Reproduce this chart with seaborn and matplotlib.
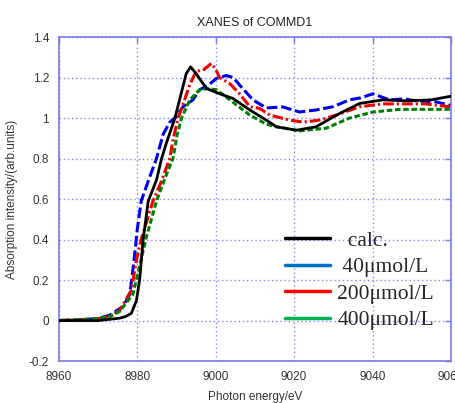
import pandas as pd
import seaborn as sns
import matplotlib
matplotlib.use('Agg')
from matplotlib import pyplot as plt
from matplotlib.lines import Line2D

# XANES spectra
calc_x = [8960, 8970, 8975.5, 8977, 8978.5, 8979.8, 8980.6, 8981.5, 8982.8, 8984.9,
          8986.2, 8987.4, 8989.6, 8992.5, 8993.6, 8995, 8997.6, 9001, 9004.4, 9008.7,
          9012.9, 9015.5, 9020.6, 9025.6, 9031.6, 9036.7, 9042.6, 9049, 9055, 9060]
calc_y = [0, 0, 0.012, 0.02, 0.036, 0.10, 0.2, 0.4, 0.59, 0.694,
          0.8, 0.875, 1.0, 1.22, 1.253, 1.22, 1.147, 1.12, 1.097, 1.04,
          0.99, 0.957, 0.94, 0.957, 1.023, 1.072, 1.09, 1.085, 1.09, 1.108]

c40_x = [8960, 8966, 8970, 8973, 8976.4, 8978.1, 8979.2, 8980, 8981, 8983,
         8984.9, 8986.6, 8988.3, 8989.5, 8991.7, 8994.2, 8995.9, 8998, 9000.2, 9002.7,
         9004.5, 9006.1, 9009.5, 9012.9, 9017.1, 9021.4, 9025.6, 9029.9, 9034.1, 9037,
         9040.1, 9044.3, 9048, 9051.1, 9056.2, 9059.6, 9060]
c40_y = [0, 0.005, 0.01, 0.027, 0.07, 0.13, 0.3, 0.45, 0.59, 0.7,
         0.8, 0.92, 0.98, 1.0, 1.056, 1.09, 1.14, 1.16, 1.196, 1.21,
         1.2, 1.163, 1.09, 1.05, 1.055, 1.03, 1.04, 1.056, 1.09, 1.1,
         1.12, 1.09, 1.095, 1.085, 1.08, 1.064, 1.06]

c200_x = [8960, 8966, 8970, 8973, 8975.5, 8978.5, 8979.8, 8981, 8984, 8986,
          8988.3, 8989.2, 8990.4, 8991.7, 8993.5, 8995, 8997, 8998.9, 9000, 9001,
          9003.6, 9006.1, 9008.7, 9011.2, 9013.8, 9018.9, 9022.3, 9026.5, 9030.8, 9036.7,
          9042.6, 9047.7, 9053.6, 9059.6, 9060]
c200_y = [0, 0.005, 0.01, 0.02, 0.05, 0.15, 0.3, 0.4, 0.59, 0.68,
          0.8, 0.9, 1.0, 1.07, 1.17, 1.23, 1.24, 1.27, 1.24, 1.20,
          1.17, 1.12, 1.056, 1.048, 1.015, 0.99, 0.98, 0.99, 1.015, 1.056,
          1.07, 1.07, 1.07, 1.056, 1.05]

c400_x = [8960, 8966, 8970, 8973, 8975.5, 8978.9, 8980.6, 8982.3, 8984.9, 8987,
          8989.1, 8990.2, 8991.3, 8993.4, 8995.9, 8998, 9000.2, 9003.6, 9008.7, 9012.9,
          9015.5, 9021.4, 9028.2, 9034.1, 9040.1, 9046.9, 9053, 9060]
c400_y = [0, 0.005, 0.01, 0.02, 0.045, 0.13, 0.27, 0.41, 0.59, 0.7,
          0.8, 0.92, 1.0, 1.09, 1.14, 1.145, 1.14, 1.09, 1.015, 0.97,
          0.957, 0.937, 0.95, 1.0, 1.03, 1.043, 1.043, 1.043]

labels = ['calc.', '40\u03bcmol/L', '200\u03bcmol/L', '400\u03bcmol/L']
legend_colors = ['black', '#0070c0', '#ff0000', '#00b050']

sns.set_style('white')
plt.rcParams['font.family'] = ['Liberation Sans', 'DejaVu Sans']

fig = plt.figure(figsize=(4.56, 4.03), dpi=100)
ax = fig.add_axes([0.129, 0.104, 0.860, 0.804])

frame = '#7878e8'
ax.grid(True, color='#8888ff', linestyle=(0, (1, 2)), linewidth=1.0)

sns.lineplot(x=calc_x, y=calc_y, ax=ax, color='black', linewidth=2.0, sort=False, zorder=3)
sns.lineplot(x=c40_x, y=c40_y, ax=ax, color='#0000ee', linewidth=2.2, sort=False,
             zorder=2).lines[-1].set_dashes((3.5, 1.2))
sns.lineplot(x=c200_x, y=c200_y, ax=ax, color='#ee0000', linewidth=2.2, sort=False,
             zorder=2).lines[-1].set_dashes((3.5, 1.0, 0.7, 1.0))
sns.lineplot(x=c400_x, y=c400_y, ax=ax, color='#008000', linewidth=2.2, sort=False,
             zorder=2).lines[-1].set_dashes((1.8, 0.9))

ax.set_xlim(8960, 9060)
ax.set_ylim(-0.2, 1.4)
ax.set_xticks([8960, 8980, 9000, 9020, 9040, 9060])
ax.set_yticks([-0.2, 0, 0.2, 0.4, 0.6, 0.8, 1, 1.2, 1.4])
ax.set_yticklabels(['-0.2', '0', '0.2', '0.4', '0.6', '0.8', '1', '1.2', '1.4'])
ax.tick_params(direction='in', length=4, width=1, color=frame, labelsize=8.5,
               labelcolor='#333333', top=True, right=True, pad=7)
for s in ax.spines.values():
    s.set_color(frame)
    s.set_linewidth(1.2)

ax.set_xlabel('Photon energy/eV', fontsize=8.5, color='#333333', labelpad=6)
ax.set_ylabel('Absorption intensity/(arb.units)', fontsize=8.5, color='#333333', labelpad=8)
ax.set_title('XANES of COMMD1', fontsize=9, color='#222222', pad=8)

handles = [Line2D([0], [0], color=c, linewidth=2.5) for c in legend_colors]
ax.legend(handles, ['  ' + labels[0], ' ' + labels[1], labels[2], labels[3]],
          loc='lower left', bbox_to_anchor=(0.527, 0.035), frameon=False,
          prop={'family': ['Liberation Serif', 'DejaVu Serif'], 'size': 15.5},
          handlelength=2.1, handletextpad=0.33, labelspacing=0.3)

fig.savefig('out.png', dpi=100)
